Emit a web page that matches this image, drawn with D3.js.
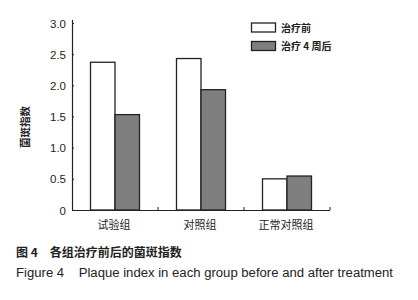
<!DOCTYPE html>
<html><head><meta charset="utf-8">
<script src="https://cdn.jsdelivr.net/npm/d3@7"></script>
<style>body{margin:0;background:#fff}svg{display:block}text{fill:#222}</style>
</head><body><svg id="c" width="418" height="300"></svg>
<script>
const categories = ["试验组", "对照组", "正常对照组"];
const seriesNames = ["治疗前", "治疗 4 周后"];
const before = [2.37, 2.43, 0.50];
const after = [1.53, 1.93, 0.545];
const yTicks = [0, 0.5, 1.0, 1.5, 2.0, 2.5, 3.0];
const yTickLabels = ["0", "0.5", "1.0", "1.5", "2.0", "2.5", "3.0"];
const yTitle = "菌斑指数";
const caption1 = "图 4\u3000各组治疗前后的菌斑指数";
const caption2 = "Figure 4    Plaque index in each group before and after treatment";

const svg = d3.select("#c");
const fontCJK = "'Noto Sans CJK SC', sans-serif";
const fontLat = "'Liberation Sans', Arial, sans-serif";
const x0 = 72, x1 = 330, yTop = 23, yBot = 210;
const x = d3.scaleBand().domain(categories).range([x0, x1]);
const y = d3.scaleLinear().domain([0, 3]).range([yBot, yTop]);
const colors = ["#ffffff", "#7f7f7f"];
const barW = 24.5;
const series = [before, after];

// bars
series.forEach((vals, si) => {
  svg.append("g").selectAll("rect").data(vals).join("rect")
    .attr("x", (d, i) => x(categories[i]) + x.bandwidth() / 2 + (si === 0 ? -barW : 0))
    .attr("y", d => y(d))
    .attr("width", barW)
    .attr("height", d => yBot - y(d))
    .attr("fill", colors[si])
    .attr("stroke", "#222")
    .attr("stroke-width", 1.3);
});

// y axis
const yAxis = d3.axisLeft(y).tickValues(yTicks)
  .tickFormat((d, i) => yTickLabels[i]).tickSizeInner(-2).tickSizeOuter(0).tickPadding(6);
const gy = svg.append("g").attr("transform", `translate(${x0},0)`).call(yAxis);
gy.select(".domain").attr("stroke", "#222").attr("stroke-width", 1.2).attr("d", `M0.5,${yTop - 3}V${yBot}`);
gy.selectAll(".tick line").attr("stroke", "#222");
gy.selectAll(".tick text").attr("font-family", fontLat).attr("font-size", 11.5).attr("fill", "#222").attr("dy", "0.35em");

// x axis
const gx = svg.append("g").attr("transform", `translate(0,${yBot})`);
gx.append("line").attr("x1", x0).attr("x2", x1).attr("y1", 0.5).attr("y2", 0.5).attr("stroke", "#222").attr("stroke-width", 1.2);
gx.selectAll("line.t").data(categories).join("line").attr("class", "t")
  .attr("x1", d => x(d) + x.bandwidth()).attr("x2", d => x(d) + x.bandwidth())
  .attr("y1", 0).attr("y2", -3).attr("stroke", "#222");
gx.selectAll("text").data(categories).join("text")
  .attr("x", d => x(d) + x.bandwidth() / 2 - 1).attr("y", 19)
  .attr("text-anchor", "middle").attr("font-family", fontCJK).attr("font-size", 11)
  .text(d => d);

// y title
svg.append("text").attr("transform", "translate(29,127) rotate(-90)")
  .attr("text-anchor", "middle").attr("font-family", fontCJK).attr("font-size", 10.5)
  .attr("font-weight", "bold").text(yTitle);

// legend
const lg = svg.append("g");
seriesNames.forEach((n, i) => {
  lg.append("rect").attr("x", 251.5).attr("y", 23 + i * 18.5).attr("width", 24).attr("height", 9)
    .attr("fill", colors[i]).attr("stroke", "#222").attr("stroke-width", 1.3);
  lg.append("text").attr("x", 281).attr("y", 31.5 + i * 18.5)
    .attr("font-family", fontCJK).attr("font-size", 10).attr("font-weight", "bold").text(n);
});

// captions
svg.append("text").attr("x", 16).attr("y", 257).attr("font-family", fontCJK)
  .attr("font-size", 12).attr("font-weight", "bold").attr("xml:space", "preserve").text(caption1);
svg.append("text").attr("x", 16).attr("y", 277).attr("font-family", fontLat)
  .attr("font-size", 12).attr("xml:space", "preserve")
  .attr("textLength", 377).attr("lengthAdjust", "spacingAndGlyphs").text(caption2);
</script></body></html>
